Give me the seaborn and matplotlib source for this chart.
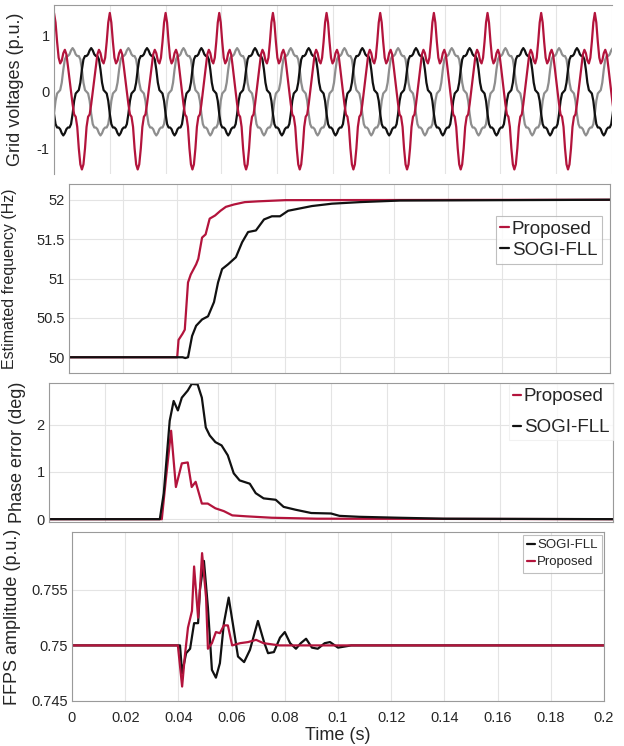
import numpy as np
import pandas as pd
import matplotlib
matplotlib.use("Agg")
import matplotlib.pyplot as plt
import seaborn as sns

# ---------------- data ----------------
# Panel 1: one digitised cycle (10 deg steps, relative to red peak) of each grid voltage
phase_deg = list(range(0, 360, 10))
red_cycle = [1.39, 1.22, 0.88, 0.60, 0.50, 0.55, 0.68, 0.74, 0.66, 0.45, 0.22, 0.00,
             -0.22, -0.40, -0.44, -0.62, -1.00, -1.28, -1.37, -1.28, -1.00, -0.62,
             -0.44, -0.40, -0.22, 0.00, 0.22, 0.45, 0.66, 0.74, 0.68, 0.55, 0.50,
             0.60, 0.88, 1.22]
black_cycle = [-0.39, -0.57, -0.63, -0.63, -0.66, -0.73, -0.77, -0.73, -0.66, -0.63,
               -0.63, -0.57, -0.39, -0.16, -0.03, 0.00, 0.03, 0.16, 0.39, 0.57, 0.63,
               0.63, 0.66, 0.73, 0.77, 0.73, 0.66, 0.63, 0.63, 0.57, 0.39, 0.16, 0.03,
               0.00, -0.03, -0.16]
gray_cycle = [-0.39, -0.16, -0.03, 0.00, 0.03, 0.16, 0.39, 0.57, 0.63, 0.63, 0.66, 0.73,
              0.77, 0.73, 0.66, 0.63, 0.63, 0.57, 0.39, 0.16, 0.03, 0.00, -0.03, -0.16,
              -0.39, -0.57, -0.63, -0.63, -0.66, -0.73, -0.77, -0.73, -0.66, -0.63,
              -0.63, -0.57]
grid_freq_hz = [50, 50, 52, 52, 52, 52, 52, 52, 52, 52, 52]   # frequency of each cycle

# Panel 2: estimated frequency
t_freq_prop = [0, 0.0400, 0.0405, 0.0420, 0.0428, 0.0440, 0.0450, 0.0470, 0.0478, 0.0492,
               0.0505, 0.0520, 0.0540, 0.0560, 0.0580, 0.0610, 0.0650, 0.0700, 0.0800, 0.2]
f_prop = [50, 50.0, 50.22, 50.30, 50.35, 50.95, 51.05, 51.18, 51.25, 51.52,
          51.56, 51.76, 51.80, 51.86, 51.91, 51.94, 51.97, 51.98, 51.995, 52.0]
t_freq_sogi = [0, 0.0420, 0.0430, 0.0440, 0.0455, 0.0470, 0.0492, 0.0514, 0.0536, 0.0551,
               0.0566, 0.0588, 0.0617, 0.0640, 0.0662, 0.0691, 0.0721, 0.0750, 0.0780,
               0.0810, 0.0854, 0.0898, 0.0972, 0.1076, 0.1224, 0.2]
f_sogi = [50, 50.0, 49.99, 50.0, 50.27, 50.40, 50.48, 50.52, 50.70, 50.95,
          51.12, 51.18, 51.27, 51.46, 51.59, 51.61, 51.75, 51.79, 51.79,
          51.86, 51.89, 51.92, 51.95, 51.97, 51.99, 52.0]

# Panel 3: phase error
t_ph_prop = [0, 0.0400, 0.0414, 0.0433, 0.0450, 0.0471, 0.0492, 0.0506, 0.0520, 0.0542,
             0.0563, 0.0590, 0.0620, 0.0650, 0.0700, 0.0790, 0.0950, 0.2]
ph_prop = [0, 0, 0.82, 1.87, 0.68, 1.18, 1.20, 0.68, 0.79, 0.33,
           0.33, 0.23, 0.17, 0.08, 0.06, 0.03, 0.01, 0.0]
t_ph_sogi = [0, 0.0393, 0.0407, 0.0428, 0.0442, 0.0457, 0.0471, 0.0492, 0.0506, 0.0527,
             0.0542, 0.0556, 0.0570, 0.0590, 0.0612, 0.0634, 0.0655, 0.0676, 0.0712,
             0.0733, 0.0761, 0.0804, 0.0832, 0.0874, 0.0930, 0.1000, 0.1030, 0.1100,
             0.1240, 0.1400, 0.2]
ph_sogi = [0, 0, 0.55, 2.08, 2.50, 2.30, 2.57, 2.72, 2.86, 2.85,
           2.57, 1.94, 1.77, 1.63, 1.56, 1.35, 0.97, 0.82, 0.75,
           0.55, 0.44, 0.41, 0.26, 0.20, 0.13, 0.12, 0.07, 0.05,
           0.03, 0.01, 0.0]

# Panel 4: FFPS amplitude
t_amp_prop = [0, 0.0398, 0.0414, 0.0424, 0.0436, 0.0451, 0.0459, 0.0474, 0.0481, 0.0489,
              0.0504, 0.0511, 0.0526, 0.0541, 0.0556, 0.0571, 0.0586, 0.0602, 0.0632,
              0.0662, 0.0692, 0.0720, 0.0780, 0.2]
amp_prop = [0.75, 0.75, 0.7463, 0.7490, 0.7516, 0.7531, 0.7571, 0.7525, 0.7550, 0.7583,
            0.7543, 0.7497, 0.7502, 0.7512, 0.7511, 0.7518, 0.7518, 0.7500, 0.7502,
            0.7503, 0.7505, 0.7502, 0.7500, 0.75]
t_amp_sogi = [0, 0.0406, 0.0414, 0.0429, 0.0444, 0.0459, 0.0474, 0.0481, 0.0496, 0.0511,
              0.0526, 0.0541, 0.0556, 0.0571, 0.0589, 0.0609, 0.0624, 0.0647, 0.0669,
              0.0692, 0.0699, 0.0722, 0.0737, 0.0759, 0.0782, 0.0800, 0.0820, 0.0842,
              0.0860, 0.0880, 0.0902, 0.0924, 0.0950, 0.0970, 0.1000, 0.1050, 0.2]
amp_sogi = [0.75, 0.75, 0.7475, 0.7493, 0.7497, 0.7520, 0.7520, 0.7550, 0.7576, 0.7534,
            0.7478, 0.7471, 0.7484, 0.7520, 0.7543, 0.7513, 0.7490, 0.7485, 0.7496,
            0.7516, 0.7522, 0.7503, 0.7493, 0.7494, 0.7507, 0.7512, 0.7502, 0.7497,
            0.7502, 0.7506, 0.7498, 0.7497, 0.7502, 0.7503, 0.7498, 0.75, 0.75]

x_ticks = [0, 0.02, 0.04, 0.06, 0.08, 0.1, 0.12, 0.14, 0.16, 0.18, 0.2]
x_ticklabels = ["0", "0.02", "0.04", "0.06", "0.08", "0.1", "0.12", "0.14", "0.16", "0.18", "0.2"]

# ---------------- style ----------------
sns.set_theme(style="white")
plt.rcParams["font.family"] = ["Liberation Sans", "DejaVu Sans"]
plt.rcParams["text.color"] = "#262626"
plt.rcParams["axes.labelcolor"] = "#262626"
plt.rcParams["xtick.color"] = "#262626"
plt.rcParams["ytick.color"] = "#262626"

RED = "#b3143c"
GRAY = "#8e8e8e"
BLACK = "#111111"

W, H = 624, 746
fig = plt.figure(figsize=(W / 100, H / 100), dpi=100)


def rect(l, t, r, b):
    return [l / W, 1 - b / H, (r - l) / W, (b - t) / H]


def style_axes(ax, l, r, label, label_x, label_size=13, show_xlabels=False):
    ax.set_xlim(0, 0.2)
    ax.set_xticks(x_ticks)
    if show_xlabels:
        ax.set_xticklabels(x_ticklabels)
    else:
        ax.set_xticklabels([])
    ax.grid(True, color="#e4e4e4", linewidth=0.8)
    ax.tick_params(direction="in", length=3, width=0.7, colors="#262626",
                   labelsize=10.5, pad=3)
    ax.tick_params(axis="x", pad=7)
    for s in ax.spines.values():
        s.set_color("#9a9a9a")
        s.set_linewidth(0.8)
    ax.set_ylabel(label, fontsize=label_size)
    ax.yaxis.set_label_coords((label_x - l) / (r - l), 0.5)
    ax.set_xlabel("")


# Panel 1: grid voltages (cycles tiled at the grid frequency)
t_list, red_list, black_list, gray_list = [], [], [], []
start = 0.0
for f in grid_freq_hz:
    per = 1.0 / f
    for k, d in enumerate(phase_deg):
        t_list.append(start + per * d / 360.0)
        red_list.append(red_cycle[k])
        black_list.append(black_cycle[k])
        gray_list.append(gray_cycle[k])
    start += per
df1 = pd.DataFrame({"t": t_list, "red": red_list, "black": black_list, "gray": gray_list})

ax1 = fig.add_axes(rect(54, 5, 612, 174))
sns.lineplot(data=df1, x="t", y="gray", ax=ax1, color=GRAY, lw=1.6, estimator=None)
sns.lineplot(data=df1, x="t", y="black", ax=ax1, color=BLACK, lw=1.6, estimator=None)
sns.lineplot(data=df1, x="t", y="red", ax=ax1, color=RED, lw=1.6, estimator=None)
ax1.set_ylim(-1.45, 1.53)
ax1.set_yticks([-1, 0, 1])
ax1.set_yticklabels(["-1", "0", "1"])
style_axes(ax1, 54, 612, "Grid voltages (p.u.)", 24)
ax1.grid(axis="y", visible=False)
ax1.spines["right"].set_visible(False)
ax1.spines["bottom"].set_visible(False)

# Panel 2: estimated frequency
ax2 = fig.add_axes(rect(69, 184, 610, 373))
sns.lineplot(x=t_freq_prop, y=f_prop, ax=ax2, color=RED, lw=1.6, label="Proposed", estimator=None)
sns.lineplot(x=t_freq_sogi, y=f_sogi, ax=ax2, color=BLACK, lw=1.6, label="SOGI-FLL", estimator=None)
ax2.set_ylim(49.8, 52.2)
ax2.set_yticks([50, 50.5, 51, 51.5, 52])
ax2.set_yticklabels(["50", "50.5", "51", "51.5", "52"])
style_axes(ax2, 69, 610, "Estimated frequency (Hz)", 17, label_size=11.5)
leg2 = ax2.legend(loc="upper right", bbox_to_anchor=(0.985, 0.83), fontsize=13.5,
                  handlelength=0.45, handletextpad=0.15, borderpad=0.25,
                  labelspacing=0.2, frameon=True, fancybox=False, borderaxespad=0)
leg2.get_frame().set_edgecolor("#b0b0b0")
leg2.get_frame().set_linewidth(0.8)

# Panel 3: phase error
ax3 = fig.add_axes(rect(49, 383, 613, 522))
sns.lineplot(x=t_ph_prop, y=ph_prop, ax=ax3, color=RED, lw=1.6, label="Proposed", estimator=None)
sns.lineplot(x=t_ph_sogi, y=ph_sogi, ax=ax3, color=BLACK, lw=1.6, label="SOGI-FLL", estimator=None)
ax3.set_ylim(-0.06, 2.88)
ax3.set_yticks([0, 1, 2])
ax3.set_yticklabels(["0", "1", "2"])
style_axes(ax3, 49, 613, "Phase error (deg)", 26)
leg3 = ax3.legend(loc="upper right", bbox_to_anchor=(1.0, 0.99), fontsize=13.5,
                  handlelength=0.45, handletextpad=0.15, borderpad=0.2,
                  labelspacing=0.75, frameon=True, fancybox=False, borderaxespad=0)
leg3.get_frame().set_edgecolor("#eeeeee")
leg3.get_frame().set_linewidth(0.8)

# Panel 4: FFPS amplitude
ax4 = fig.add_axes(rect(72, 532, 604, 701))
sns.lineplot(x=t_amp_sogi, y=amp_sogi, ax=ax4, color=BLACK, lw=1.6, label="SOGI-FLL", estimator=None)
sns.lineplot(x=t_amp_prop, y=amp_prop, ax=ax4, color=RED, lw=1.6, label="Proposed", estimator=None)
ax4.set_ylim(0.745, 0.7602)
ax4.set_yticks([0.745, 0.75, 0.755])
ax4.set_yticklabels(["0.745", "0.75", "0.755"])
style_axes(ax4, 72, 604, "FFPS amplitude (p.u.)", 21, show_xlabels=True)
ax4.set_xlabel("Time (s)", fontsize=13, labelpad=2)
leg4 = ax4.legend(loc="upper right", bbox_to_anchor=(0.997, 0.985), fontsize=9.5,
                  handlelength=0.6, handletextpad=0.15, borderpad=0.35,
                  labelspacing=0.35, frameon=True, fancybox=False, borderaxespad=0)
leg4.get_frame().set_edgecolor("#b0b0b0")
leg4.get_frame().set_linewidth(0.8)

fig.savefig("out.png", dpi=100, facecolor="white")
